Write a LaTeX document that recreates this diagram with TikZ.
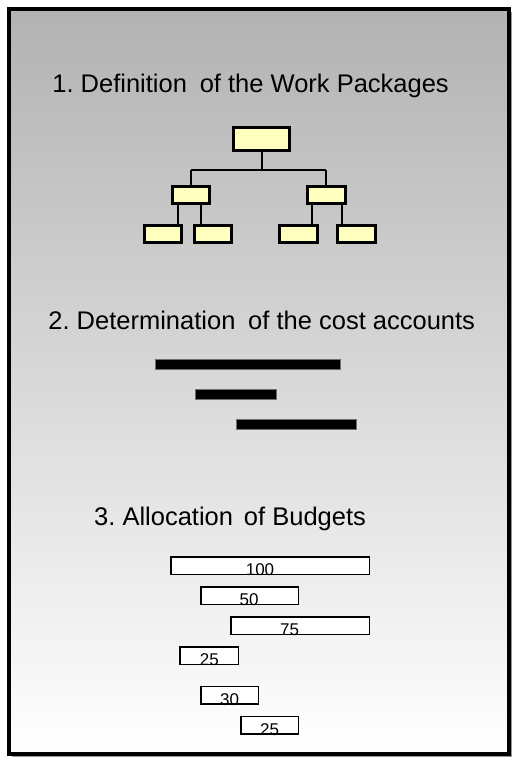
\documentclass[tikz,border=0pt]{standalone}
\usepackage{fontspec}
\setmainfont{Liberation Sans}
\frenchspacing
\definecolor{bgtop}{RGB}{178,178,178}
\definecolor{bgbot}{RGB}{255,255,255}
\definecolor{wpfill}{RGB}{255,255,192}
\definecolor{shadowgray}{RGB}{150,150,150}
\definecolor{baredge}{RGB}{110,110,110}
\pgfdeclarelayer{frame}
\pgfdeclarelayer{links}
\pgfsetlayers{frame,links,main}
\newcommand{\widegap}{\hspace{0.5em}}
\begin{document}
\begin{tikzpicture}[x=1pt,y=-1pt,
  heading/.style={anchor=base west,inner sep=0pt,font=\fontsize{25.5}{30}\selectfont},
  wp/.style={draw=black,line width=3pt,fill=wpfill,inner sep=0pt,minimum height=17pt,minimum width=37.5pt},
  link/.style={draw=black,line width=2pt},
  costbar/.style={fill=black,draw=baredge,line width=0.8pt,inner sep=0pt,minimum height=9.6pt},
  budget/.style={draw=black,line width=1.5pt,fill=white,inner sep=0pt,minimum height=17.5pt},
  amount/.style={anchor=base,inner sep=0pt,font=\fontsize{17}{20}\selectfont}]
\useasboundingbox (0,0) rectangle (512,758);

% frame with drop shadow and vertical gradient
\begin{pgfonlayer}{frame}
\fill[white] (0,0) rectangle (512,758);
\fill[shadowgray] (12,12) rectangle (512,757);
\shade[top color=bgtop,bottom color=bgbot] (9,9) rectangle (509,754);
\draw[line width=4pt] (9,9) rectangle (509,754);
\end{pgfonlayer}

% 1. work breakdown structure
\node[heading] (h1) at (52.2,92.3) {1. Definition\widegap of the Work Packages};

\coordinate (bus) at (261,170);
\coordinate (l1) at (178.3,0);
\coordinate (l2) at (200.7,0);
\coordinate (r1) at (311.7,0);
\coordinate (r2) at (341.7,0);

\node[wp,minimum width=56pt,minimum height=23pt] (top) at (261.5,139) {};
\node[wp] (lm) at (190.9,195) {};
\node[wp] (rm) at (326.3,195) {};
\node[wp] (bl1) at (163,234.3) {};
\node[wp] (bl2) at (213,234.3) {};
\node[wp] (br1) at (298.7,234.3) {};
\node[wp] (br2) at (356.7,234.3) {};

\begin{pgfonlayer}{links}
\draw[link] (top.south) -- (top.south |- bus);
\draw[link] (lm.north |- bus) -- (rm.north |- bus);
\draw[link] (lm.north |- bus) -- (lm.north);
\draw[link] (rm.north |- bus) -- (rm.north);
\draw[link] (lm.south -| l1) -- (bl1.north -| l1);
\draw[link] (lm.south -| l2) -- (bl2.north -| l2);
\draw[link] (rm.south -| r1) -- (br1.north -| r1);
\draw[link] (rm.south -| r2) -- (br2.north -| r2);
\end{pgfonlayer}

% 2. cost accounts
\node[heading] (h2) at (48.2,329.3) {2. Determination\widegap of the cost accounts};
\node[costbar,minimum width=184.5pt] (ca1) at (247.65,364.5) {};
\node[costbar,minimum width=80.5pt] (ca2) at (235.65,394.3) {};
\node[costbar,minimum width=120.2pt] (ca3) at (296.2,424.3) {};

% 3. budgets
\node[heading] (h3) at (94,525) {3. Allocation\hspace{0.15em} of Budgets};
\node[budget,minimum width=198.5pt] (b100) at (270,565.5) {};
\node[budget,minimum width=97.8pt] (b50) at (249.65,595.5) {};
\node[budget,minimum width=138.5pt] (b75) at (300,625.5) {};
\node[budget,minimum width=58.5pt] (b25a) at (209.3,655.5) {};
\node[budget,minimum width=57.8pt] (b30) at (229.65,695) {};
\node[budget,minimum width=57.8pt] (b25b) at (269.65,725) {};

\node[amount] (t100) at ([xshift=-10pt,yshift=-0.5pt]b100.south) {100};
\node[amount] (t50) at ([xshift=-0.6pt,yshift=-0.5pt]b50.south) {50};
\node[amount] (t75) at ([xshift=-10.3pt,yshift=-0.5pt]b75.south) {75};
\node[amount] (t25a) at ([yshift=-0.5pt]b25a.south) {25};
\node[amount] (t30) at ([yshift=-0.5pt]b30.south) {30};
\node[amount] (t25b) at ([yshift=-0.5pt]b25b.south) {25};
\end{tikzpicture}
\end{document}
